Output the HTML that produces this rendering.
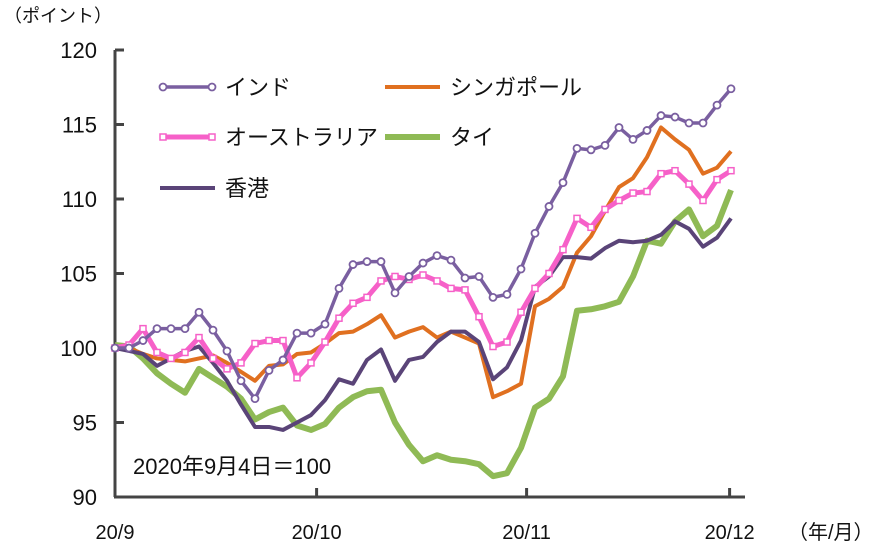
<!DOCTYPE html>
<html><head><meta charset="utf-8"><style>
html,body{margin:0;padding:0;background:#fff;}
svg text{font-family:"Liberation Sans","Noto Sans CJK JP",sans-serif;fill:#111;}
</style></head><body>
<svg id="chart" width="869" height="554" viewBox="0 0 869 554" xmlns="http://www.w3.org/2000/svg">
<text x="4" y="22" font-size="18">（ポイント）</text>
<g id="yticks"></g><g id="xticks"></g>
<line x1="115" y1="50" x2="115" y2="497" stroke="#444" stroke-width="3"/>
<line x1="114" y1="497" x2="745" y2="497" stroke="#444" stroke-width="3"/>
<g id="series"></g>
<text x="133" y="474" font-size="22">2020年9月4日＝100</text>
<text x="788" y="539" font-size="20">（年/月）</text>
<g id="legend"></g>
</svg>
<script>
const yTicks=[90,95,100,105,110,115,120];
const xTickLabels=["20/9","20/10","20/11","20/12"];
const xTickIndex=[0,14.4,29.4,43.9];
const india=[100,100,100.5,101.3,101.3,101.3,102.4,101.2,99.8,97.8,96.6,98.5,99.2,101,101,101.6,104,105.6,105.8,105.8,103.7,104.8,105.7,106.2,105.9,104.7,104.8,103.4,103.6,105.3,107.7,109.5,111.1,113.4,113.3,113.6,114.8,114,114.6,115.6,115.5,115.1,115.1,116.3,117.4];
const singapore=[100,100,99.6,99.3,99.2,99.1,99.3,99.5,99,98.4,97.8,98.8,98.9,99.6,99.7,100.3,101,101.1,101.6,102.2,100.7,101.1,101.4,100.7,101.1,100.7,100.3,96.7,97.1,97.6,102.8,103.3,104.1,106.4,107.5,109.2,110.8,111.4,112.8,114.8,114,113.3,111.7,112.1,113.2];
const australia=[100,100.2,101.3,99.7,99.3,99.7,100.7,99.3,98.6,99,100.3,100.5,100.5,98,99,100.4,102,103,103.4,104.5,104.8,104.6,104.9,104.5,104,103.9,102.1,100.1,100.4,102.4,104,105,106.6,108.7,108.1,109.3,109.9,110.4,110.5,111.7,111.9,111,109.9,111.3,111.9];
const thai=[100.2,100.1,99.3,98.3,97.6,97,98.6,98,97.4,96.6,95.2,95.7,96,94.8,94.5,94.9,96,96.7,97.1,97.2,95,93.5,92.4,92.8,92.5,92.4,92.2,91.4,91.6,93.3,96,96.6,98.1,102.5,102.6,102.8,103.1,104.8,107.2,107,108.5,109.3,107.5,108.2,110.6];
const hongkong=[100,99.8,99.6,98.8,99.3,99.8,100.1,99,97.8,96.2,94.7,94.7,94.5,95,95.5,96.5,97.9,97.6,99.2,99.9,97.8,99.2,99.4,100.4,101.1,101.1,100.4,97.9,98.7,100.5,104.1,104.8,106.1,106.1,106,106.7,107.2,107.1,107.2,107.6,108.5,108,106.8,107.4,108.7];
const NS="http://www.w3.org/2000/svg";
const x0=115,x1=731,yTop=50,yBot=497;
const n=india.length;
const xs=i=>x0+i*(x1-x0)/(n-1);
const ys=v=>yBot-(v-90)*(yBot-yTop)/30;
function mk(tag,attrs,parent){const e=document.createElementNS(NS,tag);for(const k in attrs)e.setAttribute(k,attrs[k]);parent.appendChild(e);return e;}
const yg=document.getElementById('yticks');
yTicks.forEach(v=>{
 const t=mk('line',{x1:115,x2:124,y1:ys(v),y2:ys(v),stroke:'#444','stroke-width':3},yg);
 
 
 const l=mk('text',{x:97,y:ys(v)+8,'text-anchor':'end','font-size':22},yg);l.textContent=v;
 
 
});
const xg=document.getElementById('xticks');
xTickLabels.forEach((s,i)=>{
 const x=xs(xTickIndex[i]);
 if(i>0){const t=mk('line',{x1:x,x2:x,y1:488,y2:497,stroke:'#444','stroke-width':3},xg);
 
 }
 const l=mk('text',{x:x,y:539,'text-anchor':'middle','font-size':20},xg);l.textContent=s;
 
 
});
const sg=document.getElementById('series');
function line(arr,color,w,name){
 const p=mk('polyline',{points:arr.map((v,i)=>xs(i)+','+ys(v)).join(' '),fill:'none',stroke:color,'stroke-width':w,'stroke-linejoin':'round'},sg);
 
 
}
line(thai,'#8fba55',6,'thai-line');
line(singapore,'#e07020',4,'singapore-line');
line(hongkong,'#5a4478',4,'hongkong-line');
line(australia,'#f660c8',5,'australia-line');
australia.forEach((v,i)=>{const r=mk('rect',{x:xs(i)-3,y:ys(v)-3,width:6,height:6,fill:'#fff',stroke:'#f660c8','stroke-width':1.5},sg);
 
 });
line(india,'#7a5fa0',3.5,'india-line');
india.forEach((v,i)=>{const c=mk('circle',{cx:xs(i),cy:ys(v),r:3.5,fill:'#fff',stroke:'#7a5fa0','stroke-width':1.8},sg);
 
 });
const lg=document.getElementById('legend');
function leg(x,y,color,w,label,marker,name){
 const g=mk('g',{},lg);
 
 
 mk('line',{x1:x,x2:x+55,y1:y,y2:y,stroke:color,'stroke-width':w},g);
 if(marker==='c'){[x+3,x+52].forEach(cx=>mk('circle',{cx:cx,cy:y,r:3.5,fill:'#fff',stroke:color,'stroke-width':1.8},g));}
 if(marker==='s'){[x+3,x+52].forEach(cx=>mk('rect',{x:cx-3,y:y-3,width:6,height:6,fill:'#fff',stroke:color,'stroke-width':1.5},g));}
 const t=mk('text',{x:x+65,y:y+8,'font-size':22},g);t.textContent=label;
}
leg(160,87,'#7a5fa0',3.5,'インド','c','legend-india');
leg(385,87,'#e07020',4,'シンガポール','','legend-singapore');
leg(160,137,'#f660c8',5,'オーストラリア','s','legend-australia');
leg(385,137,'#8fba55',6,'タイ','','legend-thai');
leg(160,188,'#5a4478',4,'香港','','legend-hongkong');
</script>
</body></html>
